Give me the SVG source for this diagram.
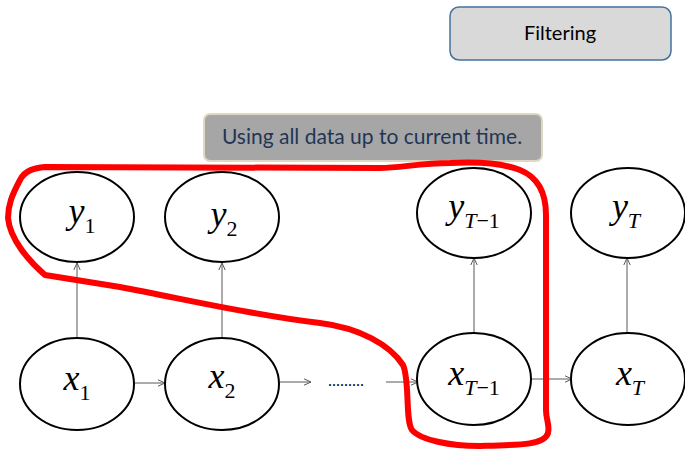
<svg xmlns="http://www.w3.org/2000/svg" width="685" height="450" viewBox="0 0 685 450">
<defs>
<marker id="ah" viewBox="0 0 8 8" refX="7.5" refY="4" markerWidth="8" markerHeight="8" markerUnits="userSpaceOnUse" orient="auto">
<path d="M0.5,0.8 L7.5,4 L0.5,7.2" fill="none" stroke="#595959" stroke-width="1"/>
</marker>
<style>
.node{fill:#fff;stroke:#000;stroke-width:2}
.v{font-family:"Liberation Serif","DejaVu Serif",serif;font-style:italic;font-size:36px;fill:#000}
.s{font-size:22px;font-style:normal}
.si{font-size:22px;font-style:italic}
.c{stroke:#595959;stroke-width:1;fill:none;marker-end:url(#ah)}
.lab{font-family:Lato,"Open Sans","Liberation Sans",sans-serif;text-anchor:middle}
</style>
</defs>
<rect x="0" y="0" width="685" height="450" fill="#fff"/>
<g id="filtering">
<rect x="450" y="7" width="221" height="53" rx="9" fill="#d9d9d9" stroke="#41719c" stroke-width="1.5"/>
<text class="lab" x="560" y="40" font-size="20" fill="#000">Filtering</text>
</g>
<g id="note">
<rect x="204" y="114" width="338" height="47" rx="6" fill="#a6a6a6" stroke="#ddd9c3" stroke-width="2"/>
<text class="lab" x="372" y="144" font-size="21" fill="#1f3656">Using all data up to current time.</text>
</g>
<g id="connectors">
<line class="c" x1="77" y1="338" x2="77" y2="263"/>
<line class="c" x1="222" y1="339" x2="222" y2="263"/>
<line class="c" x1="474" y1="334" x2="474" y2="258"/>
<line class="c" x1="627" y1="344" x2="627" y2="258"/>
<line class="c" x1="134" y1="383" x2="165" y2="383"/>
<line class="c" x1="279" y1="382" x2="311" y2="382"/>
<line class="c" x1="386" y1="382" x2="418" y2="382"/>
<line class="c" x1="531" y1="379" x2="572" y2="379"/>
</g>
<g id="y1">
<ellipse class="node" cx="77" cy="217" rx="57" ry="45"/>
<text class="v" x="82" y="223" text-anchor="middle">y<tspan class="s" dy="10">1</tspan></text>
</g>
<g id="y2">
<ellipse class="node" cx="222" cy="217" rx="57" ry="45"/>
<text class="v" x="224" y="226" text-anchor="middle">y<tspan class="s" dy="10">2</tspan></text>
</g>
<g id="yT1">
<ellipse class="node" cx="474" cy="213" rx="57" ry="45"/>
<text class="v" x="474" y="218" text-anchor="middle">y<tspan class="si" dy="10">T</tspan><tspan class="s">−1</tspan></text>
</g>
<g id="yT">
<ellipse class="node" cx="628" cy="213" rx="57" ry="45"/>
<text class="v" x="626" y="218" text-anchor="middle">y<tspan class="si" dy="10">T</tspan></text>
</g>
<g id="x1">
<ellipse class="node" cx="77" cy="384" rx="57" ry="46"/>
<text class="v" x="77" y="390" text-anchor="middle">x<tspan class="s" dy="10">1</tspan></text>
</g>
<g id="x2">
<ellipse class="node" cx="222" cy="384" rx="57" ry="46"/>
<text class="v" x="222" y="388" text-anchor="middle">x<tspan class="s" dy="10">2</tspan></text>
</g>
<g id="dots">
<text x="346" y="386" text-anchor="middle" font-family="Liberation Serif,serif" font-size="16" fill="#000">.........</text>
</g>
<g id="xT1">
<ellipse class="node" cx="474" cy="379" rx="57" ry="46"/>
<text class="v" x="474" y="385" text-anchor="middle">x<tspan class="si" dy="10">T</tspan><tspan class="s">−1</tspan></text>
</g>
<g id="xT">
<ellipse class="node" cx="628" cy="379" rx="57" ry="46"/>
<text class="v" x="630" y="385" text-anchor="middle">x<tspan class="si" dy="10">T</tspan></text>
</g>
<g id="loop">
<path d="M45,167 C35,168 25,170 20,180 C12,195 8,205 8,218 C10,240 30,262 45,275 L120,287 C180,298 250,315 320,323 C360,328 390,345 403,365 C410,380 405,420 412,430 C420,440 450,446 480,446 C520,445 545,445 548,433 C550,425 546,420 546,410 L546,215 C546,195 540,178 520,170 C500,162 470,162 450,163 C420,163 400,168 380,168 Z" fill="none" stroke="#ff0000" stroke-width="6" stroke-linejoin="round"/>
</g>
</svg>
